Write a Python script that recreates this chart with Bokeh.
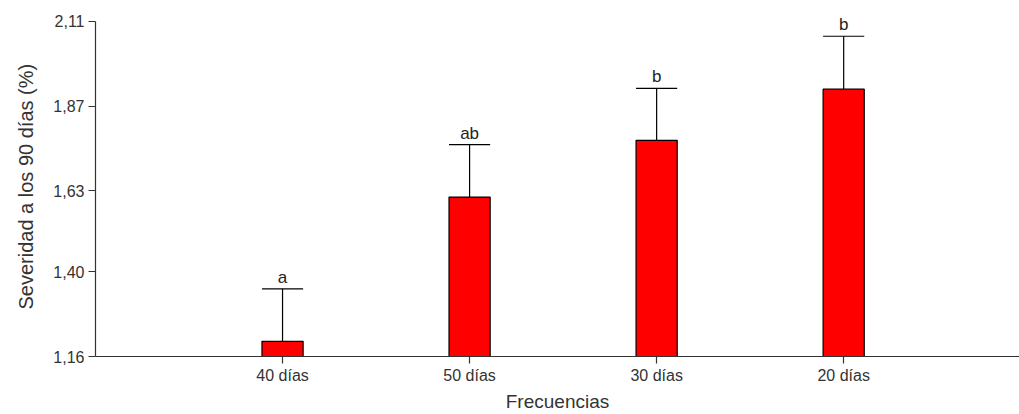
from bokeh.plotting import figure
from bokeh.models import ColumnDataSource, FixedTicker, Range1d, Title
from bokeh.embed import file_html
from bokeh.resources import INLINE
from bokeh.core.properties import value

categories = ["40 días", "50 días", "30 días", "20 días"]
positions = [1, 2, 3, 4]
means = [1.203, 1.612, 1.773, 1.918]
upper = [1.352, 1.761, 1.920, 2.068]
letters = ["a", "ab", "b", "b"]
y_ticks = [1.16, 1.40, 1.63, 1.87, 2.11]
y_tick_labels = ["1,16", "1,40", "1,63", "1,87", "2,11"]

bar_w = 0.22
FONT = "Liberation Sans"

src = ColumnDataSource(dict(
    x=positions, top=means, up=upper, lab=letters,
    xl=[p - bar_w / 2 for p in positions], xr=[p + bar_w / 2 for p in positions],
))

p = figure(width=1019, height=414, output_backend="svg", toolbar_location=None,
           x_range=Range1d(0, 4.94), y_range=Range1d(1.16, 2.11 + 19 / 353.7),
           min_border_left=95, min_border_right=0, min_border_top=2, min_border_bottom=57)
p.outline_line_color = None
p.grid.grid_line_color = None
p.background_fill_color = "white"
p.border_fill_color = "white"

p.segment(x0="x", y0="top", x1="x", y1="up", source=src, line_color="black", line_width=1.2)
p.segment(x0="xl", y0="up", x1="xr", y1="up", source=src, line_color="black", line_width=1.2)
p.vbar(x="x", bottom=1.16, top="top", width=bar_w, source=src,
       fill_color="#FF0000", line_color="black", line_width=1.2)
p.text(x="x", y="up", text="lab", source=src, text_align="center", text_baseline="bottom",
       y_offset=-2, text_font=value(FONT), text_font_size="17px", text_color="#222222")

p.xaxis.ticker = FixedTicker(ticks=positions)
p.xaxis.major_label_overrides = {pp: c for pp, c in zip(positions, categories)}
p.yaxis.ticker = FixedTicker(ticks=y_ticks)
p.yaxis.major_label_overrides = {t: l for t, l in zip(y_ticks, y_tick_labels)}
p.yaxis.bounds = (1.16, 2.11)

for ax in (p.xaxis, p.yaxis):
    ax.axis_line_color = "#333333"
    ax.axis_line_width = 1.2
    ax.major_tick_line_color = "#333333"
    ax.major_tick_line_width = 1.2
    ax.major_tick_out = 7
    ax.major_tick_in = 0
    ax.minor_tick_line_color = None
    ax.major_label_text_font = FONT
    ax.major_label_text_font_size = "16px"
    ax.major_label_text_color = "#333333"
    ax.axis_label_text_font = FONT
    ax.axis_label_text_font_size = "19px"
    ax.axis_label_text_font_style = "normal"
    ax.axis_label_text_color = "#333333"

p.xaxis.axis_label = "Frecuencias"
p.xaxis.major_label_standoff = 3
p.xaxis.axis_label_standoff = 4
p.yaxis.major_label_standoff = 4

ytitle = Title(text="Severidad a los 90 días (%)", align="left", offset=47,
               vertical_align="top",
               text_font=FONT, text_font_size="20px", text_font_style="normal",
               text_color="#333333", standoff=24)
p.add_layout(ytitle, "left")

open("out.html", "w").write(file_html(p, INLINE))
